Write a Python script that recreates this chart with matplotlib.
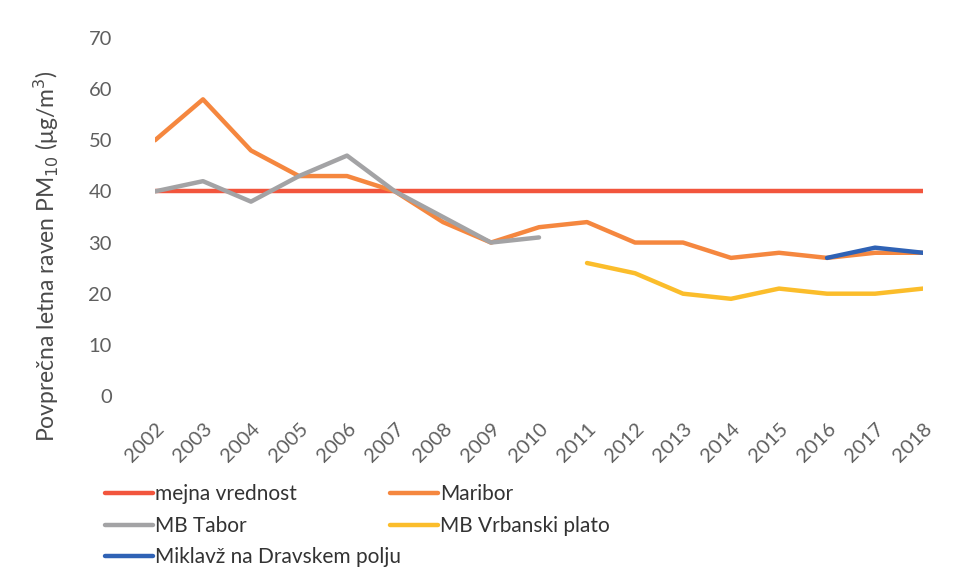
import numpy as np
import matplotlib.pyplot as plt

plt.rcParams['font.family'] = ['Lato', 'DejaVu Sans']

leta = list(range(2002, 2019))
mejna = [40] * len(leta)
maribor = [50, 58, 48, 43, 43, 40, 34, 30, 33, 34, 30, 30, 27, 28, 27, 28, 28]
tabor_leta = list(range(2002, 2011))
tabor = [40, 42, 38, 43, 47, 40, 35, 30, 31]
vrbanski_leta = list(range(2011, 2019))
vrbanski = [26, 24, 20, 19, 21, 20, 20, 21]
miklavz_leta = [2016, 2017, 2018]
miklavz = [27, 29, 28]

fig = plt.figure(figsize=(9.65, 5.85), dpi=100)
ax = fig.add_axes([0.1606, 0.3231, 0.7959, 0.612])

lw = 3.2
l_mej, = ax.plot(leta, mejna, color='#f2553d', lw=lw, solid_capstyle='round', label='mejna vrednost')
l_mar, = ax.plot(leta, maribor, color='#f5873f', lw=lw, solid_capstyle='round', label='Maribor')
l_tab, = ax.plot(tabor_leta, tabor, color='#a3a3a5', lw=lw, solid_capstyle='round', label='MB Tabor')
l_vrb, = ax.plot(vrbanski_leta, vrbanski, color='#fbbd2b', lw=lw, solid_capstyle='round', label='MB Vrbanski plato')
l_mik, = ax.plot(miklavz_leta, miklavz, color='#2f62b5', lw=lw, solid_capstyle='round', label='Miklavž na Dravskem polju')

ax.set_xlim(2002, 2018)
ax.set_ylim(0, 70)
ax.set_yticks(np.arange(0, 71, 10))
ax.set_xticks(leta)
ax.set_xticklabels([str(l) for l in leta], rotation=45, ha='right', rotation_mode='anchor')
ax.tick_params(axis='both', length=0, labelsize=14.5, colors='#5f5f5f')
ax.tick_params(axis='y', pad=31)
ax.tick_params(axis='x', pad=17)
for s in ax.spines.values():
    s.set_visible(False)

ax.set_ylabel('Povprečna letna raven PM$_{10}$ ($\\mathregular{\\mu}$g/m$^3$)', fontsize=16.5, color='#4a4a4a')
ax.yaxis.set_label_coords(-0.123, 0.39)

kw = dict(loc='upper left', frameon=False, fontsize=15, handlelength=2.3, handletextpad=0.1,
          labelspacing=0.55, labelcolor='#333333', borderaxespad=0, borderpad=0)
fig.legend(handles=[l_mej, l_tab, l_mik], bbox_to_anchor=(0.109, 0.172), **kw)
fig.legend(handles=[l_mar, l_vrb], bbox_to_anchor=(0.404, 0.172), **kw)

plt.savefig('out.png', dpi=100)
